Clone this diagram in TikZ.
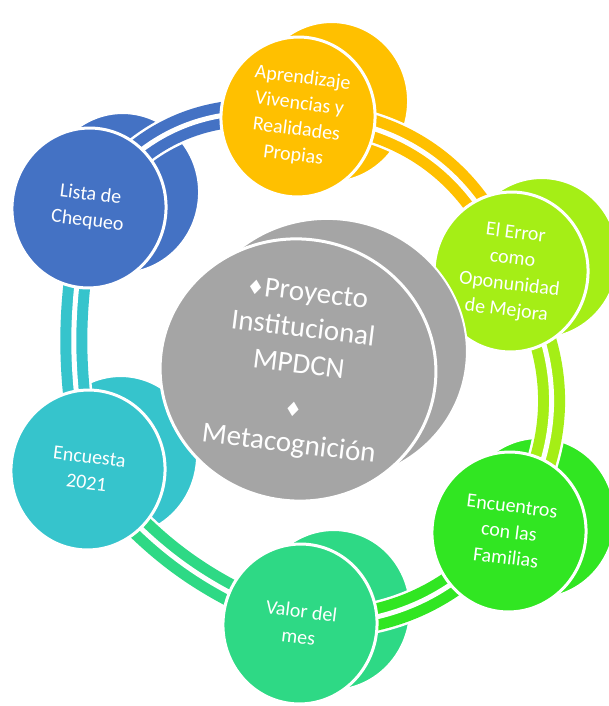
\documentclass[tikz,border=0pt]{standalone}
\usepackage{fontspec}
\setmainfont{Carlito}
\newfontfamily\symfont{DejaVu Sans}
\usetikzlibrary{shapes.geometric}

\definecolor{lblue}{HTML}{4472C4}
\definecolor{lorange}{HTML}{FFC000}
\definecolor{llime}{HTML}{A5EE16}
\definecolor{lgreen}{HTML}{31E622}
\definecolor{lmint}{HTML}{2ED985}
\definecolor{lteal}{HTML}{36C4CC}
\definecolor{lgray}{HTML}{A5A5A5}

\pgfdeclarelayer{backs}
\pgfdeclarelayer{links}
\pgfsetlayers{backs,links,main}

\begin{document}
\begin{tikzpicture}[x=1pt,y=1pt,
  disc/.style={
    ellipse,
    draw=white,
    line width=3pt,
    inner sep=0pt,
    minimum width=154pt,
    minimum height=160pt,
    rotate=-7,
    fill=#1
  },
  face/.style={
    disc=#1,
    align=center,
    text=white,
    font=\fontsize{20}{26}\selectfont
  },
  back/.style={
    disc=#1,
    line width=2pt
  },
  halo/.style={
    draw=white,
    line width=32pt
  },
  link/.style={
    draw=#1,
    line width=11pt,
    double=white,
    double distance=5pt
  }]
  \useasboundingbox (0,0) rectangle (609,-706);

  % front discs
  \node[face=lblue] (lis) at (89,-208) {Lista de\\Chequeo};
  \node[face=lorange] (apr) at (298,-117) {Aprendizaje\\Vivencias y\\Realidades\\Propias};
  \node[face=llime] (err) at (511,-272) {El Error\\como\\Oponunidad\\de Mejora};
  \node[face=lgreen] (enc) at (509,-532) {Encuentros\\con las\\Familias};
  \node[face=lmint] (val) at (300,-624) {Valor del\\mes};
  \node[face=lteal] (ens) at (88,-470) {Encuesta\\2021};

  % depth of the discs
  \begin{pgfonlayer}{backs}
    \node[back=lblue] (lis-b) at (122,-193) {};
    \node[back=lorange] (apr-b) at (331,-102) {};
    \node[back=llime] (err-b) at (541,-258) {};
    \node[back=lgreen] (enc-b) at (538,-518) {};
    \node[back=lmint] (val-b) at (333,-610) {};
    \node[back=lteal] (ens-b) at (120,-456) {};
  \end{pgfonlayer}

  % cycle arrows
  \begin{pgfonlayer}{links}
    \foreach \from/\to/\col/\bend in {lis/apr/lblue/34, apr/err/lorange/36,
        err/enc/llime/33, enc/val/lgreen/25, val/ens/lmint/15, ens/lis/lteal/11}{
      \draw[halo] (\from.center) to[bend left=\bend] (\to.center);
      \draw[link=\col] (\from.center) to[bend left=\bend] (\to.center);
    }
  \end{pgfonlayer}

  % centre
  \node[back=lgray, minimum width=276pt, minimum height=262pt] (pro-b) at (329,-350) {};
  \node[face=lgray, minimum width=276pt, minimum height=262pt,
    font=\fontsize{29}{36}\selectfont] (pro) at (298,-370)
    {{\symfont\fontsize{20}{20}\selectfont ♦}Proyecto\\Institucional\\MPDCN\\[8pt]
     {\symfont\fontsize{20}{20}\selectfont ♦}\\Metacognición};
\end{tikzpicture}
\end{document}
